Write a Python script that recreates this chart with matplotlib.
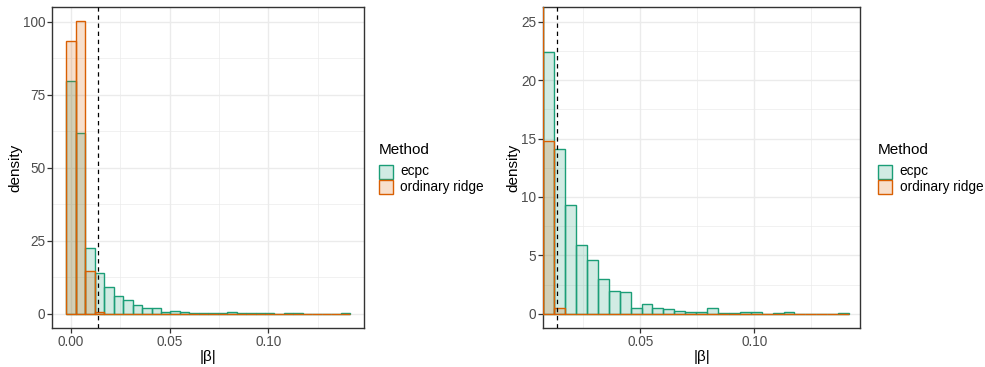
import numpy as np
import matplotlib
matplotlib.use('Agg')
import matplotlib.pyplot as plt
from matplotlib.patches import Rectangle

# histogram bins (30 bins of |beta|)
bin_start = -0.0022
bin_width = 0.00479
# density per bin
ecpc = [79.7, 61.8, 22.4, 14.1, 9.3, 5.9, 4.6, 2.95, 1.95, 1.86,
        0.48, 0.86, 0.48, 0.37, 0.26, 0.14, 0.14, 0.48, 0.09, 0.09,
        0.17, 0.17, 0.0, 0.09, 0.17, 0.0, 0.0, 0.0, 0.0, 0.09]
ridge = [93.3, 100.3, 14.8, 0.52, 0, 0, 0, 0, 0, 0,
         0, 0, 0, 0, 0, 0, 0, 0, 0, 0,
         0, 0, 0, 0, 0, 0, 0, 0, 0, 0]
vline_x = 0.0136
methods = ['ecpc', 'ordinary ridge']
colors = ['#1B9E77', '#D95F02']

plt.rcParams['font.family'] = ['Liberation Sans', 'DejaVu Sans']

W, H = 985, 367
fig = plt.figure(figsize=(W / 100, H / 100), dpi=100)

edges = bin_start + bin_width * np.arange(len(ecpc) + 1)
lo, hi = edges[0], edges[-1]
pad = 0.05 * (hi - lo)

grid_c = '#EBEBEB'
txt_c = '#4D4D4D'


def draw(ax, xlim, ylim, yticks, yminor, xticks, xminor):
    for vals, col in zip([ecpc, ridge], colors):
        ax.bar(edges[:-1], vals, width=bin_width, align='edge',
               facecolor=matplotlib.colors.to_rgba(col, 0.2),
               edgecolor=col, linewidth=1.0, zorder=3)
    ax.axvline(vline_x, color='black', linestyle=(0, (3.5, 3)), linewidth=0.9, zorder=4)
    ax.set_xlim(*xlim)
    ax.set_ylim(*ylim)
    ax.set_yticks(yticks)
    ax.set_yticks(yminor, minor=True)
    ax.set_xticks(xticks)
    ax.set_xticks(xminor, minor=True)
    ax.set_xticklabels(['%.2f' % t for t in xticks])
    ax.grid(True, which='major', color=grid_c, linewidth=1.0, zorder=0)
    ax.grid(True, which='minor', color=grid_c, linewidth=0.5, zorder=0)
    ax.set_axisbelow(True)
    for s in ax.spines.values():
        s.set_color('#333333')
        s.set_linewidth(1.0)
    ax.tick_params(which='major', direction='out', length=3.5, width=0.9,
                   color='#333333', labelcolor=txt_c, labelsize=9.8, pad=1.5)
    ax.tick_params(which='minor', length=0)
    ax.set_xlabel('|β|', fontsize=11, labelpad=0.5)
    ax.set_ylabel('density', fontsize=11, labelpad=0.5)


bottom = 1 - 328.3 / H
height = 321 / H
ax1 = fig.add_axes([52.3 / W, bottom, 312 / W, height])
draw(ax1, (lo - pad, hi + pad), (-5, 105), [0, 25, 50, 75, 100],
     [12.5, 37.5, 62.5, 87.5], [0.0, 0.05, 0.10], [0.025, 0.075, 0.125])

ax2 = fig.add_axes([543.3 / W, bottom, 316.7 / W, height])
draw(ax2, (edges[2], 0.1463), (-1.25, 26.25), [0, 5, 10, 15, 20, 25],
     [2.5, 7.5, 12.5, 17.5, 22.5], [0.05, 0.10], [0.025, 0.075, 0.125])


# legends
def legend(x0):
    fig.text(x0 / W, 1 - 150 / H, 'Method', fontsize=11, va='center', ha='left')
    for i, (m, col) in enumerate(zip(methods, colors)):
        y_top = 164.5 + i * 15.5
        fig.add_artist(Rectangle((x0 / W, 1 - (y_top + 14) / H), 14 / W, 14 / H,
                                 transform=fig.transFigure,
                                 facecolor=matplotlib.colors.to_rgba(col, 0.2),
                                 edgecolor=col, linewidth=1.0))
        fig.text((x0 + 22) / W, 1 - (y_top + 7) / H, m, fontsize=9.8,
                 va='center', ha='left')


legend(378.5)
legend(877.5)

fig.savefig('out.png', dpi=100)
